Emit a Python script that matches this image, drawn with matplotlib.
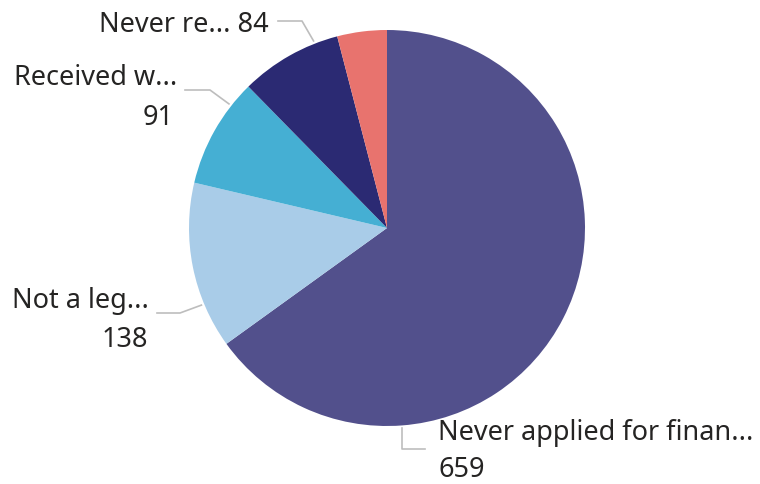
import matplotlib.pyplot as plt
import numpy as np

# slice data, clockwise from 12 o'clock
labels = ["Never applied for finan...", "Not a leg...", "Received w...", "Never re...", ""]
values = [659, 138, 91, 84, 41]
colors = ["#52508C", "#A9CCE8", "#45AFD3", "#2B2A73", "#E8736E"]

W, H = 760, 484
plt.rcParams["font.family"] = ["Noto Sans", "DejaVu Sans"]
fig = plt.figure(figsize=(W / 100, H / 100), dpi=100)
ax = fig.add_axes([0, 0, 1, 1])

cx, cy, r = 387, H - 228, 198
wedges, _ = ax.pie(values, colors=colors, startangle=90, counterclock=False,
                   center=(cx, cy), radius=r, frame=True,
                   wedgeprops=dict(linewidth=0))
ax.set_xlim(0, W)
ax.set_ylim(0, H)
ax.set_aspect("equal")
ax.axis("off")

txt = "#252423"
line_c = "#BDBDBD"
fs = 19.5


def edge_point(w, frac):
    # point just outside the rim, frac of the way clockwise through the wedge
    a = np.deg2rad(w.theta2 - frac * (w.theta2 - w.theta1))
    return cx + r * 1.015 * np.cos(a), cy + r * 1.015 * np.sin(a)


def label(x, y, s, ha):
    ax.text(x, H - y, s, fontsize=fs, color=txt, ha=ha, va="baseline")


# Never applied
ex, ey = edge_point(wedges[0], 0.75)
ax.plot([ex, ex, 425], [ey, H - 449, H - 449], color=line_c, lw=1.2)
label(438, 440, labels[0], "left")
label(438, 477, str(values[0]), "left")

# Not a leg
ex, ey = edge_point(wedges[1], 0.27)
ax.plot([ex, 180, 157], [ey, H - 313, H - 313], color=line_c, lw=1.2)
label(149, 308, labels[1], "right")
label(148, 347, str(values[1]), "right")

# Received w
ex, ey = edge_point(wedges[2], 0.77)
ax.plot([ex, 210, 185], [ey, H - 90, H - 90], color=line_c, lw=1.2)
label(177, 85, labels[2], "right")
label(174, 125, str(values[2]), "right")

# Never re
ex, ey = edge_point(wedges[3], 0.77)
ax.plot([ex, 302, 278], [ey, H - 21, H - 21], color=line_c, lw=1.2)
label(269, 32, f"{labels[3]} {values[3]}", "right")

fig.savefig("out.png", dpi=100, facecolor="white")
